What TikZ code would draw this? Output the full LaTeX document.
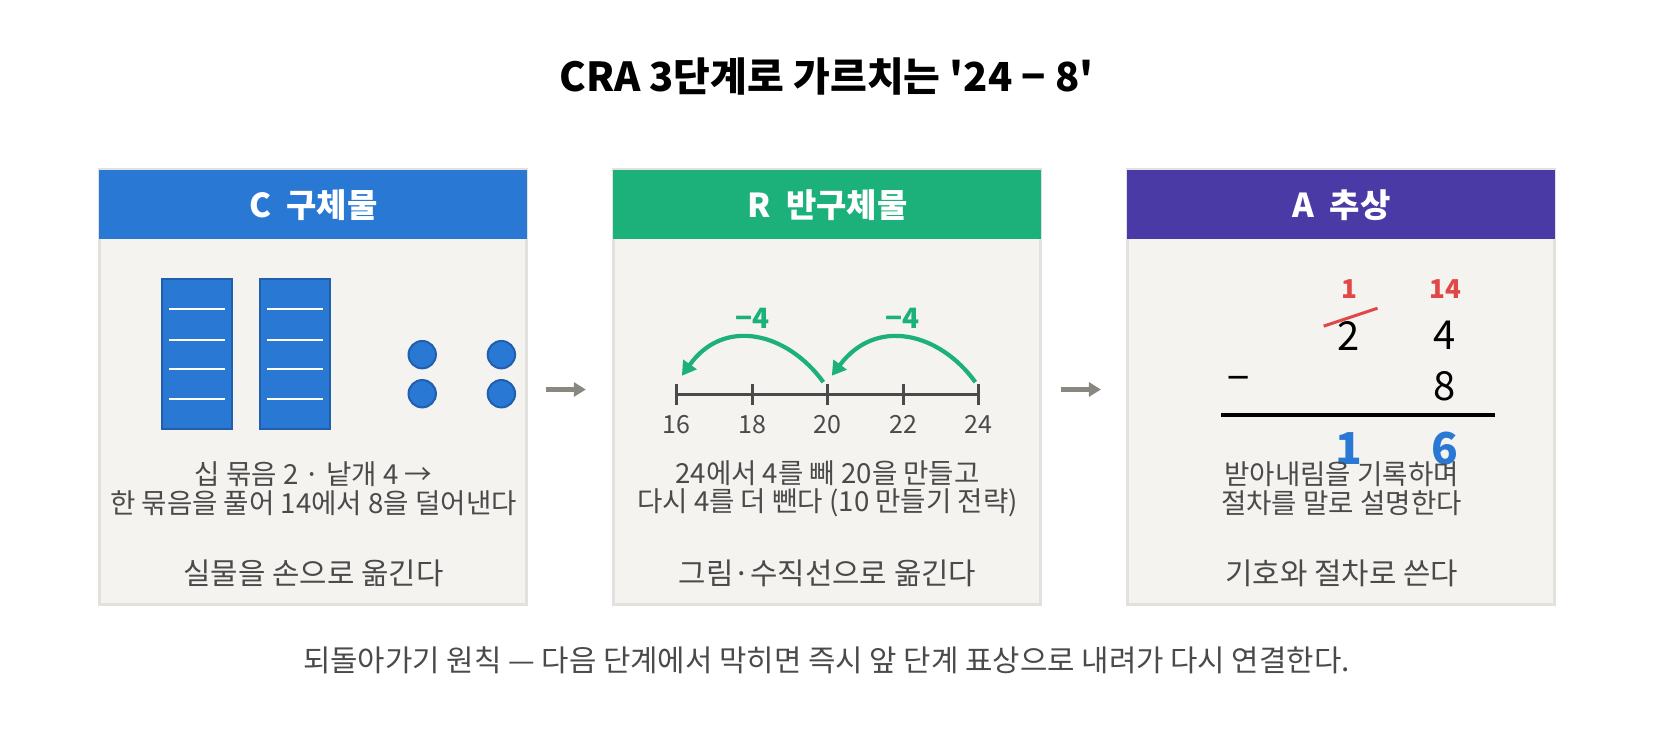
\documentclass[tikz,border=0pt]{standalone}
\usepackage{fontspec}
\setmainfont{Noto Sans CJK KR}
\usetikzlibrary{arrows.meta}
\definecolor{cb}{HTML}{2878D4}
\definecolor{cbd}{HTML}{1F5FAE}
\definecolor{cg}{HTML}{1CB07A}
\definecolor{cp}{HTML}{4A3AA6}
\definecolor{bodyf}{HTML}{F4F3F0}
\definecolor{bord}{HTML}{E2E1DD}
\definecolor{txt}{HTML}{4A4A4A}
\definecolor{arr}{HTML}{8A8680}
\definecolor{cr}{HTML}{E04848}
\begin{document}
\begin{tikzpicture}[x=0.528pt,y=-0.528pt,
 body/.style={draw=bord,line width=1.5pt,fill=bodyf},
 hd/.style={font=\fontsize{16.5}{19}\selectfont\bfseries,text=white},
 desc/.style={font=\fontsize{13.8}{14.2}\selectfont,text=txt,align=center},
 foot/.style={font=\fontsize{14.9}{16}\selectfont,text=txt},
 rod/.style={draw=cbd,line width=1pt,fill=cb},
 dot/.style={circle,draw=cbd,line width=1pt,fill=cb,minimum size=13.7pt,inner sep=0},
 nextstep/.style={-{Triangle[length=6pt,width=7pt]},line width=2.6pt,draw=arr},
 jump/.style={-{Triangle[length=7pt,width=8pt]},line width=2.1pt,draw=cg},
 num/.style={font=\fontsize{20}{22}\selectfont}]
\node[font=\fontsize{20}{23}\selectfont\bfseries] (title) at (783,72) {CRA 3단계로 가르치는 \textquotesingle 24 − 8\textquotesingle};
% panels
\foreach \x/\c in {94/cb,581/cg,1068/cp}{
 \draw[body] (\x,161) rectangle +(405,412);
 \fill[\c] (\x,161) rectangle +(405,65);
}
\node[hd] (h1) at (297,194) {C\ \ 구체물};
\node[hd] (h2) at (784,194) {R\ \ 반구체물};
\node[hd] (h3) at (1271,194) {A\ \ 추상};
% panel 1
\foreach \x in {153,246}{
 \draw[rod] (\x,264) rectangle +(67,142);
 \foreach \y in {293,322,350,378} \draw[white,line width=1pt] (\x+7,\y) -- (\x+60,\y);
}
\node[dot] (d1) at (400,336) {}; \node[dot] (d2) at (475,336) {};
\node[dot] (d3) at (400,373) {}; \node[dot] (d4) at (475,373) {};
\node[desc] (t1) at (297,463) {십 묶음 2 · 낱개 4 →\\한 묶음을 풀어 14에서 8을 덜어낸다};
\node[foot] (f1) at (297,543) {실물을 손으로 옮긴다};
% panel 2
\draw[line width=1.5pt,draw=txt] (641,374) -- (927,374);
\foreach \x/\l in {641/16,713/18,784/20,856/22,927/24}{
 \draw[line width=1.5pt,draw=txt] (\x,364) -- (\x,384);
 \node[font=\fontsize{12.5}{14}\selectfont,text=txt] at (\x,402) {\l};
}
\coordinate (a0) at (924,362); \coordinate (a1) at (788,356);
\coordinate (b0) at (780,362); \coordinate (b1) at (646,356);
\draw[jump] (a0) .. controls (890,315) and (830,300) .. (a1);
\draw[jump] (b0) .. controls (746,315) and (686,300) .. (b1);
\node[font=\fontsize{14}{16}\selectfont\bfseries,text=cg] at (713,302) {−4};
\node[font=\fontsize{14}{16}\selectfont\bfseries,text=cg] at (855,302) {−4};
\node[desc] (t2) at (784,463) {24에서 4를 빼 20을 만들고\\다시 4를 더 뺀다 (10 만들기 전략)};
\node[foot] (f2) at (784,543) {그림·수직선으로 옮긴다};
% panel 3
\node[font=\fontsize{13}{14}\selectfont\bfseries,text=cr] at (1278,274) {1};
\node[font=\fontsize{13}{14}\selectfont\bfseries,text=cr] at (1369,274) {14};
\node[num] at (1278,318) {2};
\node[num] at (1369,318) {4};
\draw[cr,line width=1.5pt] (1254,309) -- (1305,292);
\node[num] at (1173,364) {−};
\node[num] at (1369,366) {8};
\draw[line width=2pt] (1157,393) -- (1416,393);
\node[font=\fontsize{22}{24}\selectfont\bfseries,text=cb] at (1278,425) {1};
\node[font=\fontsize{22}{24}\selectfont\bfseries,text=cb] at (1369,425) {6};
\node[desc] (t3) at (1271,463) {받아내림을 기록하며\\절차를 말로 설명한다};
\node[foot] (f3) at (1271,543) {기호와 절차로 쓴다};
% arrows
\coordinate (s1) at (517,369); \coordinate (e1) at (555,369);
\coordinate (s2) at (1005,369); \coordinate (e2) at (1043,369);
\draw[nextstep] (s1) -- (e1);
\draw[nextstep] (s2) -- (e2);
\node[foot] (note) at (783,626) {되돌아가기 원칙 — 다음 단계에서 막히면 즉시 앞 단계 표상으로 내려가 다시 연결한다.};
\pgfresetboundingbox
\useasboundingbox (0,0) rectangle (1566,709.6);
\end{tikzpicture}
\end{document}
